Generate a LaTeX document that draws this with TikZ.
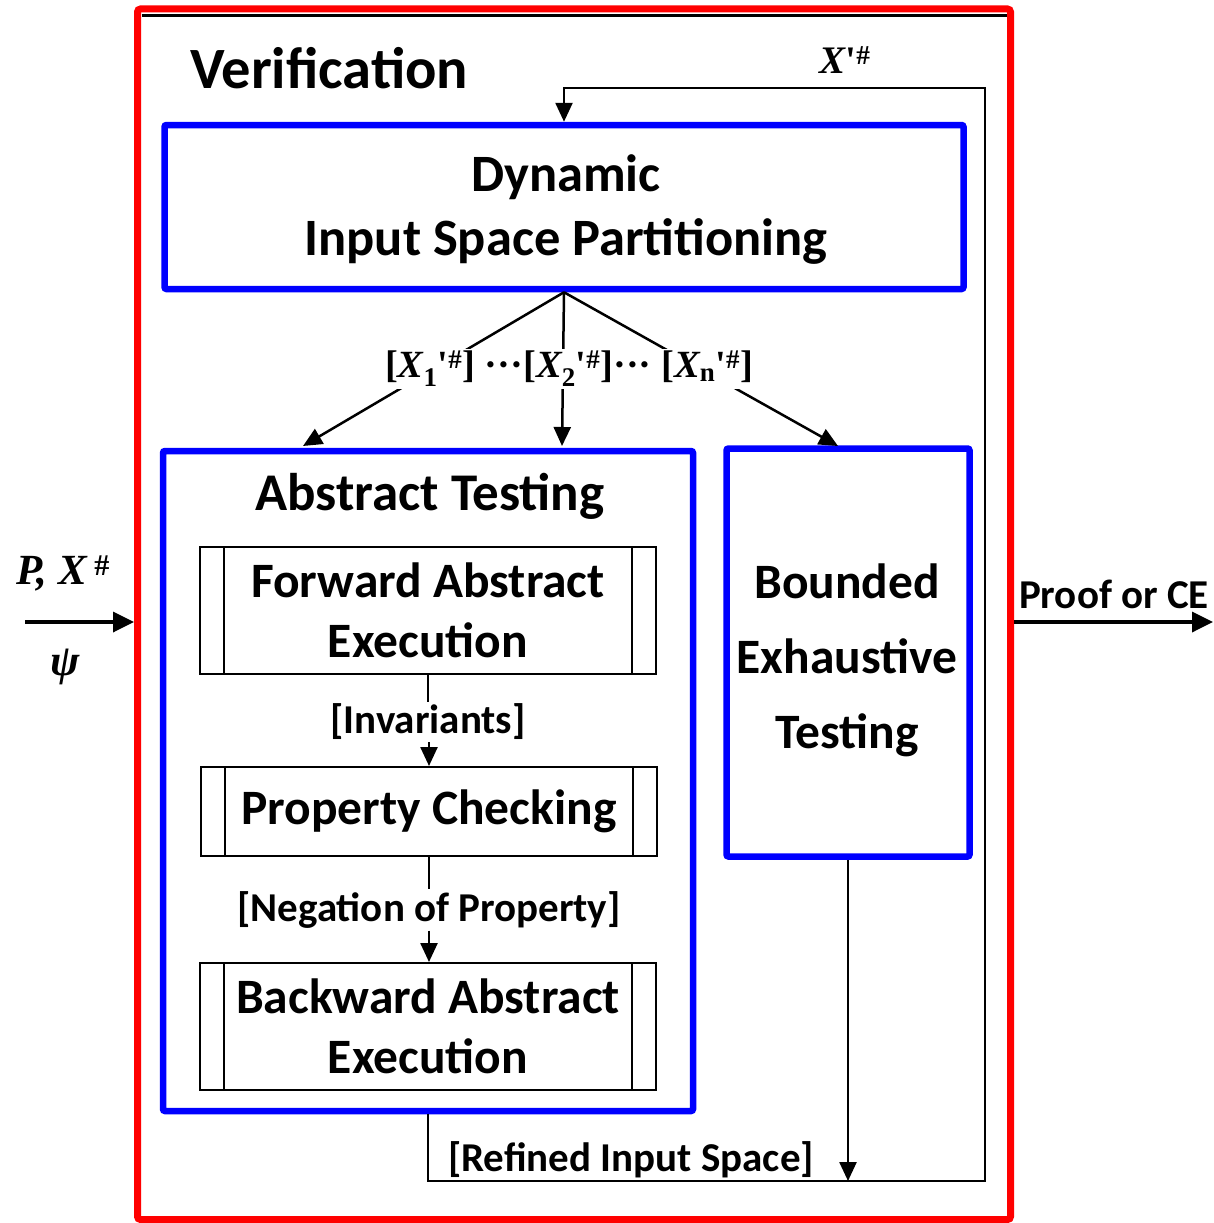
\documentclass[tikz,border=0pt]{standalone}
\usepackage{fontspec}
\setmainfont{Carlito}
\newfontfamily\tms{Liberation Serif}
\usetikzlibrary{arrows.meta,calc}
\newcommand{\xvar}[1]{[{\itshape X}\textsubscript{#1}\textquotesingle\textsuperscript{\#}]}
\begin{document}
\begin{tikzpicture}[x=1pt,y=-1pt,
  bluebox/.style={draw=blue, line width=6.5pt, rounded corners=2pt, inner sep=0pt},
  subbox/.style={draw=black, line width=2pt, inner sep=0pt, align=center, font=\bfseries\fontsize{49.5}{60}\selectfont},
  subline/.style={draw=black, line width=2pt},
  conn/.style={draw=black, line width=2.5pt},
  arr/.style={conn, -{Triangle[length=19pt,width=17pt]}},
  bigarr/.style={draw=black, line width=3.5pt, -{Triangle[length=21pt,width=20pt]}},
  lbl/.style={inner sep=2pt, font=\bfseries\fontsize{41}{44}\selectfont},
  mth/.style={inner sep=2pt, font=\tms\bfseries\fontsize{38.5}{44}\selectfont},
  ttl/.style={inner sep=0pt, align=center, font=\bfseries\fontsize{52.5}{64}\selectfont}
]
\useasboundingbox (0,0) rectangle (1213,1223);

% outer red box
\node[draw=red, line width=7pt, rounded corners=3pt, minimum width=873pt, minimum height=1210.5pt, inner sep=0pt] (ver) at (574,614.25) {};
\draw[line width=2.5pt] (141.5,15.5) -- (1006.5,15.5);
\node[anchor=west, inner sep=0pt, font=\bfseries\fontsize{58.5}{62}\selectfont] (vt) at (190,68) {Verification};

% dynamic input space partitioning
\node[bluebox, minimum width=799pt, minimum height=164pt] (dip) at (564,207) {};
\node[ttl] (dipt) at (566,210) {Dynamic\\Input Space Partitioning};

% abstract testing
\node[bluebox, minimum width=530pt, minimum height=660pt] (at) at (428,781) {};
\node[ttl, font=\bfseries\fontsize{53}{64}\selectfont] (att) at (430,496) {Abstract Testing};

\node[subbox, minimum width=456pt, minimum height=127pt] (fae) at (428,610.5) {Forward Abstract\\Execution};
\node[subbox, minimum width=456pt, minimum height=89pt] (pc) at (429,811.5) {Property Checking};
\node[subbox, minimum width=456pt, minimum height=127pt] (bae) at (428,1026.5) {Backward Abstract\\Execution};
\foreach \n in {fae,pc,bae}{
  \draw[subline] ([xshift=25pt]\n.north west) -- ([xshift=25pt]\n.south west);
  \draw[subline] ([xshift=-25pt]\n.north east) -- ([xshift=-25pt]\n.south east);
}
\node[lbl] (inv) at (428,722) {[Invariants]};
\node[lbl] (neg) at (429,910) {[Negation of Property]};
\draw[conn] (fae.south) -- (fae.south |- inv.north);
\draw[arr] (pc.north |- inv.south) -- (pc.north);
\draw[conn] (pc.south) -- (pc.south |- neg.north);
\draw[arr] (pc.south |- neg.south) -- (pc.south |- bae.north);

% bounded exhaustive testing
\node[bluebox, minimum width=243pt, minimum height=408pt] (bet) at (848,652.5) {};
\node[inner sep=0pt, align=center, font=\bfseries\fontsize{49.5}{75}\selectfont] (bett) at (847,660) {Bounded\\Exhaustive\\Testing};

% branches
\coordinate (t1) at (303,446);
\coordinate (t2) at (562,446);
\coordinate (t3) at (838,446);
\draw[arr] (dip.south) -- (t1);
\draw[arr] (dip.south) -- (t2);
\draw[arr] (dip.south) -- (t3);
\node[mth, fill=white, inner xsep=0pt] (xs) at (569,369) {\xvar{1} ···\xvar{2}··· \xvar{n}};

% feedback loop
\coordinate (c1) at (985,1181);
\coordinate (c2) at (985,88);
\draw[arr] (at.south) |- (c1) -- (c2) -| (dip.north);
\draw[arr] (bet.south) -- (bet.south |- c1);
\node[lbl] (ris) at (631,1160) {[Refined Input Space]};
\node[inner sep=0pt, font=\tms\bfseries\fontsize{39}{42}\selectfont] (xp) at (845,60) {{\itshape X}\textquotesingle\textsuperscript{\#}};

% input / output
\coordinate (inp) at (25,622);
\coordinate (outp) at (1213,622);
\draw[bigarr] (inp) -- (inp -| ver.west);
\draw[bigarr] (outp -| ver.east) -- (outp);
\node[mth, font=\tms\bfseries\fontsize{43}{46}\selectfont] (px) at (63,573) {{\itshape P, X}\,\textsuperscript{\#}};
\node[mth, font=\tms\bfseries\fontsize{44}{46}\selectfont] (psi) at (65,667) {{\itshape ψ}};
\node[lbl] (poc) at (1114,594) {Proof or CE};
\end{tikzpicture}
\end{document}
